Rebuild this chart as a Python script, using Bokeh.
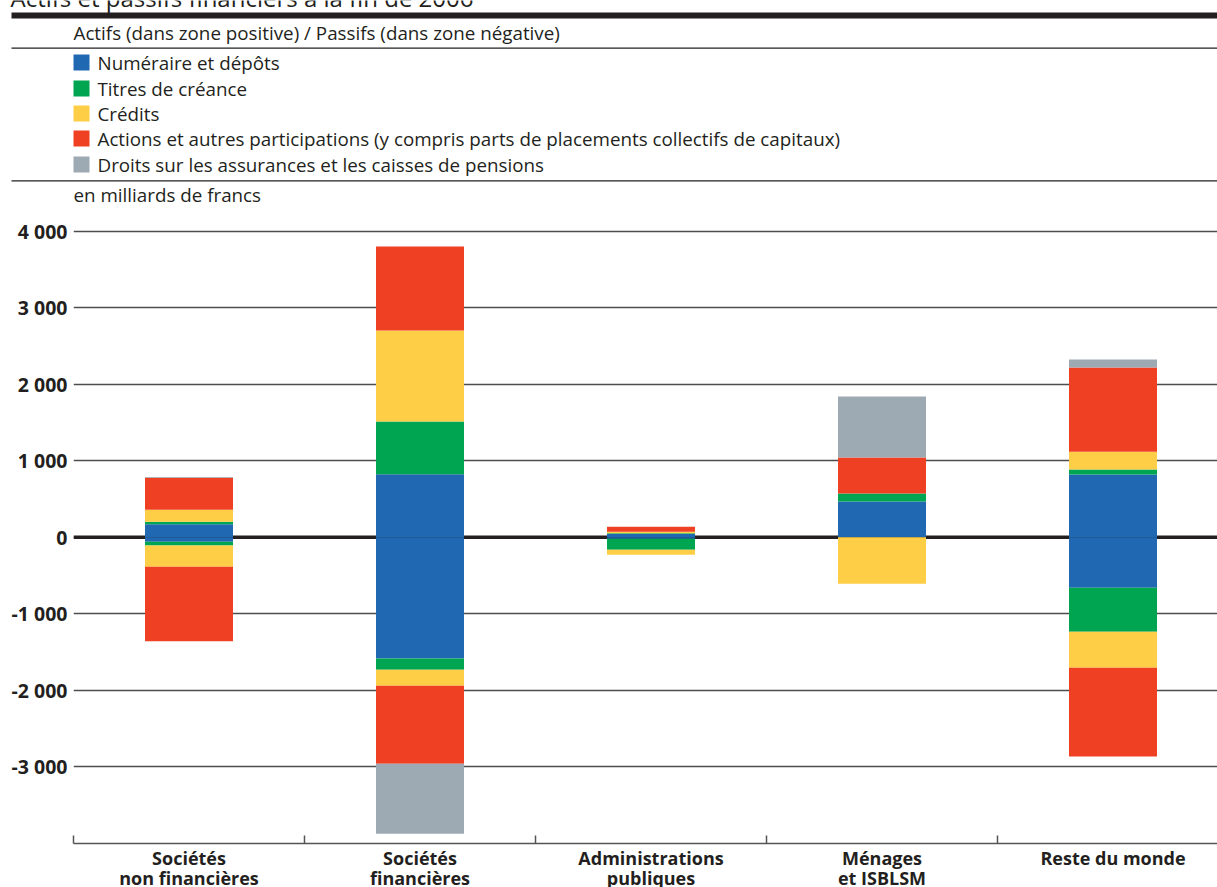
from bokeh.plotting import figure
from bokeh.models import Range1d, FixedTicker, Span, ColumnDataSource
from bokeh.embed import file_html
from bokeh.resources import INLINE
from bokeh.core.properties import value

# ---------------- data ----------------
categories = ["Sociétés\nnon financières", "Sociétés\nfinancières",
              "Administrations\npubliques", "Ménages\net ISBLSM", "Reste du monde"]
series = ["Numéraire et dépôts", "Titres de créance", "Crédits",
          "Actions et autres participations (y compris parts de placements collectifs de capitaux)",
          "Droits sur les assurances et les caisses de pensions"]
colors = ["#2168b3", "#00a551", "#ffce47", "#f04023", "#9eaab3"]

# Actifs (zone positive), en milliards de francs
actifs_numeraire = [170, 824, 44, 467, 820]
actifs_titres = [35, 689, 10, 105, 65]
actifs_credits = [157, 1190, 20, 0, 235]
actifs_actions = [418, 1098, 65, 471, 1098]
actifs_assurances = [10, 0, 0, 797, 105]

# Passifs (zone négative)
passifs_numeraire = [-56, -1582, -17, 0, -658]
passifs_titres = [-52, -148, -144, 0, -575]
passifs_credits = [-275, -209, -65, -605, -471]
passifs_actions = [-976, -1020, 0, 0, -1159]
passifs_assurances = [0, -915, 0, 0, 0]

y_ticks = [-3000, -2000, -1000, 0, 1000, 2000, 3000, 4000]
y_tick_labels = ["-3 000", "-2 000", "-1 000", "0", "1 000", "2 000", "3 000", "4 000"]

chart_title = "Actifs et passifs financiers à la fin de 2006"
header_title = "Actifs (dans zone positive) / Passifs (dans zone négative)"
unit_label = "en milliards de francs"

# ---------------- styling ----------------
FONT = "Open Sans"
TXT = "#231f20"
W = 1217
HEADER_H = 216
MAIN_H = 631          # frame 627 + 4 px for the axis line
LABEL_H = 887 - HEADER_H - MAIN_H
CAT_PX = 231.0
FRAME_LEFT = 73
FRAME_W = W - FRAME_LEFT
HFS = "18.8px"

# ---------------- header ----------------
h = figure(width=W, height=HEADER_H, x_range=Range1d(0, W), y_range=Range1d(HEADER_H, 0),
           output_backend="svg", toolbar_location=None, min_border=0,
           x_axis_type=None, y_axis_type=None)
h.grid.visible = False
h.outline_line_color = None
h.text(x=[10], y=[-3], text=[chart_title], text_font=value(FONT), text_font_size="24px",
       text_color=TXT, text_baseline="alphabetic", text_align="left")
h.quad(left=[11], right=[W], top=[12], bottom=[18], fill_color=TXT, line_color=None)
h.segment(x0=[11, 11], x1=[W, W], y0=[47.7, 180.3], y1=[47.7, 180.3], line_color=TXT, line_width=1.3)
h.text(x=[73], y=[32], text=[header_title], text_font=value(FONT), text_font_size=HFS,
       text_color=TXT, text_baseline="middle", text_align="left")
leg_y = [62, 88, 113, 138, 164]
h.quad(left=[73] * 5, right=[89] * 5, top=[y - 8 for y in leg_y], bottom=[y + 8 for y in leg_y],
       fill_color=colors, line_color=None)
h.text(x=[97] * 5, y=leg_y, text=series, text_font=value(FONT), text_font_size=HFS,
       text_color=TXT, text_baseline="middle", text_align="left")
h.text(x=[73], y=[194], text=[unit_label], text_font=value(FONT), text_font_size=HFS,
       text_color=TXT, text_baseline="middle", text_align="left")

# ---------------- main chart ----------------
xs = [i + 0.5 for i in range(len(categories))]
keys = ["numeraire", "titres", "credits", "actions", "assurances"]
pos = ColumnDataSource(dict(x=xs, numeraire=actifs_numeraire, titres=actifs_titres,
                            credits=actifs_credits, actions=actifs_actions,
                            assurances=actifs_assurances))
neg = ColumnDataSource(dict(x=xs, numeraire=passifs_numeraire, titres=passifs_titres,
                            credits=passifs_credits, actions=passifs_actions,
                            assurances=passifs_assurances))

p = figure(width=W, height=MAIN_H, x_range=Range1d(0, FRAME_W / CAT_PX),
           y_range=Range1d(-4000, 4192), output_backend="svg", toolbar_location=None,
           min_border=0, min_border_left=FRAME_LEFT, min_border_right=0,
           min_border_top=0, min_border_bottom=MAIN_H - 627)
p.outline_line_color = None
p.xgrid.visible = False
p.ygrid.ticker = FixedTicker(ticks=y_ticks)
p.ygrid.grid_line_color = "#4d4d4d"
p.ygrid.grid_line_width = 1.3

p.add_layout(Span(location=0, dimension="width", line_color=TXT, line_width=3.5, level="underlay"))

bw = 88 / CAT_PX
p.vbar_stack(keys, x="x", width=bw, color=colors, line_color=None, source=pos)
p.vbar_stack(keys, x="x", width=bw, color=colors, line_color=None, source=neg)

# y axis
p.yaxis.ticker = FixedTicker(ticks=y_ticks)
p.yaxis.major_label_overrides = {t: l for t, l in zip(y_ticks, y_tick_labels)}
p.yaxis.axis_line_color = None
p.yaxis.major_tick_line_color = None
p.yaxis.minor_tick_line_color = None
p.yaxis.major_tick_out = 0
p.yaxis.major_tick_in = 0
p.yaxis.minor_tick_out = 0
p.yaxis.minor_tick_in = 0
p.yaxis.major_label_standoff = 6
p.yaxis.major_label_text_font = FONT
p.yaxis.major_label_text_font_style = "bold"
p.yaxis.major_label_text_font_size = "19.5px"
p.yaxis.major_label_text_color = TXT

# x axis: boundary ticks only (minor), category labels drawn below
p.xaxis.ticker = FixedTicker(ticks=[], minor_ticks=list(range(len(categories))))
p.xaxis.major_label_standoff = 0
p.xaxis.major_tick_out = 0
p.xaxis.major_tick_in = 0
p.xaxis.axis_line_color = "#555555"
p.xaxis.axis_line_width = 1.5
p.xaxis.major_tick_line_color = None
p.xaxis.minor_tick_line_color = "#555555"
p.xaxis.minor_tick_line_width = 1.5
p.xaxis.minor_tick_in = 8
p.xaxis.minor_tick_out = 0

# ---------------- category labels (same category scale as the chart) ----------------
lab = figure(width=W, height=LABEL_H,
             x_range=Range1d(-FRAME_LEFT / CAT_PX, FRAME_W / CAT_PX),
             y_range=Range1d(LABEL_H, 0), output_backend="svg", toolbar_location=None,
             min_border=0, x_axis_type=None, y_axis_type=None)
lab.grid.visible = False
lab.outline_line_color = None
line1 = [c.split("\n")[0] for c in categories]
line2 = [c.split("\n")[1] if "\n" in c else "" for c in categories]
top0 = 887 - LABEL_H   # page y of the label strip
lab.text(x=xs, y=[857 - top0] * len(xs), text=line1, text_font=value(FONT),
         text_font_style="bold", text_font_size="18px", text_color=TXT,
         text_align="center", text_baseline="middle")
lab.text(x=xs, y=[877 - top0] * len(xs), text=line2, text_font=value(FONT),
         text_font_style="bold", text_font_size="18px", text_color=TXT,
         text_align="center", text_baseline="middle")

open("out.html", "w").write(file_html([h, p, lab], INLINE))
